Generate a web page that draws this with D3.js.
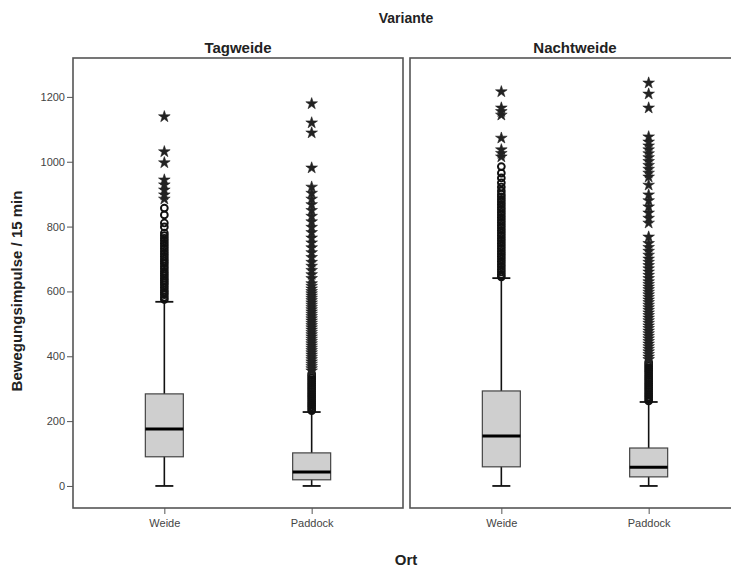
<!DOCTYPE html>
<html><head><meta charset="utf-8">
<script src="https://cdn.jsdelivr.net/npm/d3@7"></script>
<style>body{margin:0;background:#fff}svg{display:block}</style>
</head><body>
<script>
const panels = ["Tagweide", "Nachtweide"];
const categories = ["Weide", "Paddock"];
const yTicks = [0, 200, 400, 600, 800, 1000, 1200];

// box statistics per panel, order = categories
const tagMin = [0, 0], tagQ1 = [90, 19], tagMed = [176, 43], tagQ3 = [284, 102], tagMax = [568, 228];
const nachtMin = [0, 0], nachtQ1 = [59, 28], nachtMed = [154, 58], nachtQ3 = [293, 117], nachtMax = [641, 259];

// outliers (circles) and extremes (stars)
const tagWeideOut = [575,582,590,597,604,612,620,627,634,641,648,655,662,670,678,686,693,700,708,716,724,732,740,748,756,764,772,780,799,811,836,857];
const tagWeideExt = [885,898,913,929,944,997,1031,1139];
const tagPaddockOut = [232,238,244,250,256,262,268,274,280,286,292,298,304,310,316,322,328,334,340,346];
const tagPaddockExt = [355,362,369,376,383,390,397,404,411,418,425,432,439,446,453,460,467,474,481,488,495,502,509,516,523,530,537,544,551,558,565,572,579,586,593,600,608,616,624,640,652,665,678,690,705,720,735,750,765,782,798,815,832,850,868,885,903,922,981,1089,1120,1179];
const nachtWeideOut = [645,652,660,668,676,684,692,700,708,716,724,732,740,748,756,764,772,780,788,796,804,812,820,828,836,844,852,860,868,876,884,892,900,910,922,935,950,965,985];
const nachtWeideExt = [1015,1026,1037,1073,1144,1155,1166,1216];
const nachtPaddockOut = [262,268,274,280,286,292,298,304,310,316,322,328,334,340,346,352,358,364,370,376,382];
const nachtPaddockExt = [390,398,406,414,422,430,438,446,454,462,470,478,486,494,502,510,518,526,534,542,550,558,566,574,582,590,598,606,614,622,630,640,650,660,670,680,690,700,712,724,736,748,768,811,826,842,861,880,898,928,953,965,977,989,1001,1013,1025,1037,1049,1061,1077,1166,1209,1243];

const stats = [
  {min: tagMin, q1: tagQ1, med: tagMed, q3: tagQ3, max: tagMax, out: [tagWeideOut, tagPaddockOut], ext: [tagWeideExt, tagPaddockExt]},
  {min: nachtMin, q1: nachtQ1, med: nachtMed, q3: nachtQ3, max: nachtMax, out: [nachtWeideOut, nachtPaddockOut], ext: [nachtWeideExt, nachtPaddockExt]}
];

const W = 731, H = 567;
const FONT = "'Liberation Sans', Arial, sans-serif";
const svg = d3.select("body").append("svg").attr("width", W).attr("height", H)
  .style("font-family", FONT);

const plotTop = 58, plotBottom = 508, panelW = 330;
const panelX = [73, 410];
const y = d3.scaleLinear().domain([-68, 1320]).range([plotBottom, plotTop]);

const frameColor = "#555";
const textColor = "#444";

// Titles
svg.append("text").attr("x", 406).attr("y", 23).attr("text-anchor", "middle")
  .style("font-weight", "bold").style("font-size", "14px").attr("fill", "#222").text("Variante");
svg.append("text").attr("x", 406).attr("y", 565).attr("text-anchor", "middle")
  .style("font-weight", "bold").style("font-size", "15px").attr("fill", "#222").text("Ort");
svg.append("text").attr("transform", `translate(22,${(plotTop + plotBottom) / 2 + 8}) rotate(-90)`)
  .attr("text-anchor", "middle").style("font-weight", "bold").style("font-size", "15px")
  .attr("fill", "#222").text("Bewegungsimpulse / 15 min");

// Y axis
const yAxis = d3.axisLeft(y).tickValues(yTicks).tickFormat(d3.format("d")).tickSize(6).tickSizeOuter(0).tickPadding(2);
const ya = svg.append("g").attr("transform", `translate(${panelX[0]},0)`).call(yAxis);
ya.select(".domain").remove();
ya.selectAll("line").attr("stroke", frameColor).attr("stroke-width", 1);
ya.selectAll("text").attr("fill", textColor).style("font-size", "11px").style("font-family", FONT);

const star = d3.symbol().type(d3.symbolStar).size(42);

panels.forEach((p, pi) => {
  const x0 = panelX[pi];
  const x = d3.scalePoint().domain(categories).range([x0, x0 + panelW]).padding(0.62);
  const g = svg.append("g");

  g.append("text").attr("x", x0 + panelW / 2).attr("y", 53).attr("text-anchor", "middle")
    .style("font-weight", "bold").style("font-size", "15px").attr("fill", "#222").text(p);

  g.append("rect").attr("x", x0).attr("y", plotTop).attr("width", panelW).attr("height", plotBottom - plotTop)
    .attr("fill", "none").attr("stroke", frameColor).attr("stroke-width", 1.6);

  const xAxis = d3.axisBottom(x).tickSize(6).tickSizeOuter(0).tickPadding(5);
  const xa = g.append("g").attr("transform", `translate(0,${plotBottom})`).call(xAxis);
  xa.select(".domain").remove();
  xa.selectAll("line").attr("stroke", frameColor).attr("stroke-width", 1);
  xa.selectAll("text").attr("fill", textColor).style("font-size", "11px").style("font-family", FONT);

  const s = stats[pi];
  const bw = 38, cw = 18;
  categories.forEach((c, ci) => {
    const cx = x(c);
    g.append("line").attr("x1", cx).attr("x2", cx).attr("y1", y(s.max[ci])).attr("y2", y(s.min[ci]))
      .attr("stroke", "#111").attr("stroke-width", 1.6);
    [s.max[ci], s.min[ci]].forEach(v => {
      g.append("line").attr("x1", cx - cw / 2).attr("x2", cx + cw / 2).attr("y1", y(v)).attr("y2", y(v))
        .attr("stroke", "#111").attr("stroke-width", 1.8);
    });
    g.append("rect").attr("x", cx - bw / 2).attr("y", y(s.q3[ci])).attr("width", bw)
      .attr("height", y(s.q1[ci]) - y(s.q3[ci])).attr("fill", "#cfcfcf").attr("stroke", "#444").attr("stroke-width", 1.2);
    g.append("line").attr("x1", cx - bw / 2).attr("x2", cx + bw / 2).attr("y1", y(s.med[ci])).attr("y2", y(s.med[ci]))
      .attr("stroke", "#000").attr("stroke-width", 3);
    g.append("g").selectAll("circle").data(s.out[ci]).join("circle")
      .attr("cx", cx).attr("cy", d => y(d)).attr("r", 3.4)
      .attr("fill", "none").attr("stroke", "#111").attr("stroke-width", 1.9);
    g.append("g").selectAll("path").data(s.ext[ci]).join("path")
      .attr("d", star).attr("transform", d => `translate(${cx},${y(d)})`)
      .attr("fill", "#222").attr("stroke", "#222").attr("stroke-width", 0.6);
  });
});
</script>
</body></html>
